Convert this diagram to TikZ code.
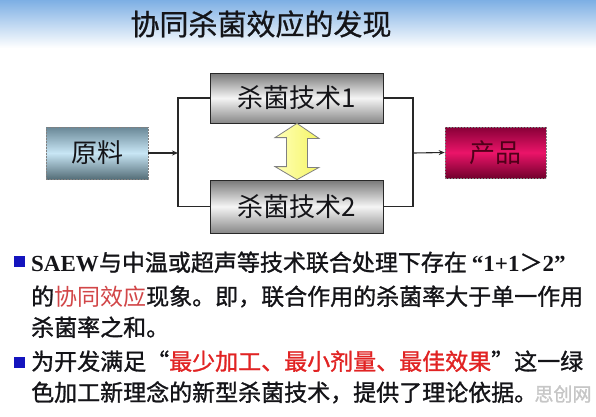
\documentclass[tikz,border=0pt]{standalone}
\usepackage{fontspec}
\setmainfont{Liberation Serif}
\newfontfamily\cjk{Noto Sans CJK SC}
\newfontfamily\cjkb[FakeBold=1.2]{Noto Sans CJK SC}
\newfontfamily\cjkt[FakeBold=0.8]{Noto Sans CJK SC}
\newfontfamily\serifbold{Liberation Serif Bold}
\usetikzlibrary{arrows.meta}
\definecolor{topblue}{RGB}{125,175,228}
\definecolor{txt}{RGB}{20,20,24}
\definecolor{linec}{RGB}{40,40,40}
\definecolor{bulletblue}{RGB}{20,20,190}
\definecolor{redA}{RGB}{210,70,72}
\definecolor{redB}{RGB}{225,35,35}
\definecolor{grayT}{RGB}{120,120,120}
\definecolor{grayM}{RGB}{245,245,245}
\definecolor{grayB}{RGB}{135,135,135}
\definecolor{blueT}{RGB}{105,135,150}
\definecolor{blueM}{RGB}{200,230,245}
\definecolor{blueB}{RGB}{85,110,120}
\definecolor{redT}{RGB}{135,0,55}
\definecolor{redM}{RGB}{235,20,105}
\definecolor{redBt}{RGB}{115,0,45}
\definecolor{prodtxt}{RGB}{80,0,25}
\definecolor{yel}{RGB}{245,245,100}
\definecolor{yelL}{RGB}{255,255,185}
\begin{document}
\begin{tikzpicture}[x=1pt,y=-1pt,
  techbox/.style={draw=linec, line width=0.8pt, inner sep=0pt,
    top color=grayT, bottom color=grayB, middle color=grayM,
    minimum width=173pt, font=\cjk\fontsize{26}{26}\selectfont, text=txt},
  endbox/.style={draw=gray, line width=0.6pt, dash pattern=on 2pt off 1pt,
    inner sep=0pt, minimum width=101pt, minimum height=51pt,
    font=\cjk\fontsize{26}{26}\selectfont},
  conn/.style={draw=linec, line width=1.1pt},
  tip/.style={-{Stealth[length=6pt,width=5pt]}},
  bodyline/.style={anchor=base west, inner sep=0pt, text=txt,
    font=\cjkb\fontsize{23}{23}\selectfont},
  bulletsq/.style={fill=bulletblue, inner sep=0pt, minimum size=11pt}]
\useasboundingbox (0,0) rectangle (596,416);
\fill[white] (0,0) rectangle (596,416);
\shade[top color=topblue, bottom color=white] (0,0) rectangle (596,48);

\node[text=txt, inner sep=0pt] (title) at (261,24)
  {\cjkt\fontsize{29}{29}\selectfont 协同杀菌效应的发现};

\node[endbox, top color=blueT, bottom color=blueB, middle color=blueM,
  text=txt, minimum width=102pt, minimum height=52pt] (yuan) at (97,153) {原料};
\node[techbox, minimum height=50pt] (t1) at (296.5,98) {杀菌技术1};
\node[techbox, minimum height=53pt] (t2) at (296.5,206.5) {杀菌技术2};
\node[endbox, top color=redT, bottom color=redBt, middle color=redM,
  text=prodtxt] (prod) at (495.5,152.5) {产品};

\coordinate (jl) at (178,153);
\coordinate (jr) at (413,153);
\draw[conn, tip] (yuan.east) -- (jl);
\draw[conn] (t1.west) -| (jl) |- (t2.west);
\draw[conn] (t1.east) -| (jr) |- (t2.east);
\draw[conn, tip] (jr) -- (prod.west);

% double arrow between the two techniques
\path[draw=gray, line width=0.8pt, left color=yelL, right color=yel]
  (t1.south -| 297,0) -- ++(22,15) -- ++(-11.5,0) -- ++(0,29) -- ++(11.5,0)
  -- (t2.north -| 297,0) -- ++(-22,-13) -- ++(11.5,0) -- ++(0,-29)
  -- ++(-11.5,0) -- cycle;

\node[bulletsq] (b1) at (19,261.5) {};
\node[bodyline] (l1) at (31,271)
  {{\serifbold SAEW}与中温或超声等技术联合处理下存在\hspace{5pt}{\serifbold “1+1}＞{\serifbold 2”}};
\node[bodyline] (l2) at (31,305)
  {的{\cjk\color{redA}协同效应}现象。即，联合作用的杀菌率大于单一作用};
\node[bodyline] (l3) at (31,336) {杀菌率之和。};
\node[bulletsq] (b2) at (19,362) {};
\node[bodyline] (l4) at (31,370)
  {为开发满足“{\color{redB}最少加工、最小剂量、最佳效果}”这一绿};
\node[bodyline] (l5) at (31,401) {色加工新理念的新型杀菌技术，提供了理论依据。};
\node[inner sep=0pt, text=gray!45] (wm) at (563,394)
  {\cjkb\fontsize{19}{19}\selectfont 思创网};
\end{tikzpicture}
\end{document}
